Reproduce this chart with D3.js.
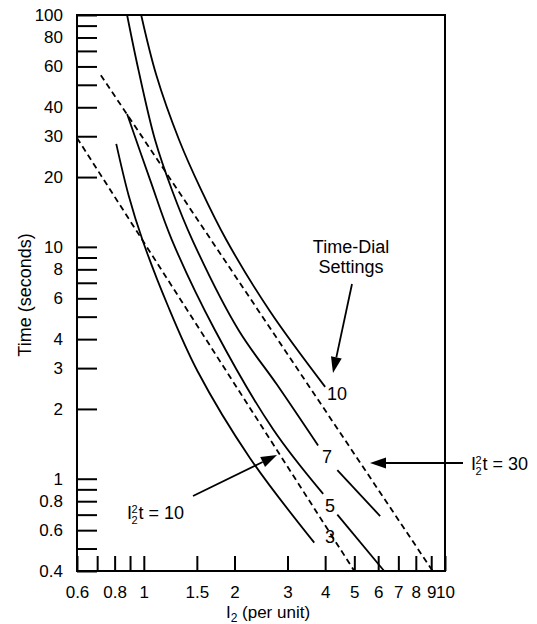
<!DOCTYPE html>
<html>
<head>
<meta charset="utf-8">
<script src="https://cdn.jsdelivr.net/npm/d3@7"></script>
<style>
body{margin:0;background:#fff;}
text{font-family:"Liberation Sans",Arial,sans-serif;fill:#000;}
</style>
</head>
<body>
<svg id="chart" width="537" height="624"></svg>
<script>
// values: current I2 (per unit) and time (seconds)
var dial3I = [0.81, 0.89, 0.99, 1.2, 1.51, 2.25, 3.68];
var dial3T = [27.8, 16.7, 10.7, 5.6, 2.9, 1.23, 0.53];

var dial5I = [0.88, 1.05, 1.24, 1.72, 2.69, 3.94];
var dial5T = [37.4, 19.4, 10.7, 4.39, 1.63, 0.86];
var dial5bI = [4.39, 6.28];
var dial5bT = [0.70, 0.40];

var dial7I = [0.88, 0.96, 1.09, 1.24, 1.45, 2.06, 2.77, 3.79];
var dial7T = [100, 57.9, 28.9, 17.6, 10.7, 4.39, 2.54, 1.39];
var dial7bI = [4.39, 6.09];
var dial7bT = [1.09, 0.69];

var dial10I = [0.98, 1.1, 1.31, 1.55, 1.88, 2.63, 4.0];
var dial10T = [100, 55.1, 28.9, 17.6, 10.7, 5.25, 2.49];

var i2t10I = [0.6, 5.0];
var i2t10T = [29.5, 0.4];
var i2t30I = [0.72, 9.1];
var i2t30T = [55, 0.4];

var xTicks = [0.6, 0.7, 0.8, 0.9, 1, 1.5, 2, 3, 4, 5, 6, 7, 8, 9, 10];
var xLabels = [0.6, 0.8, 1, 1.5, 2, 3, 4, 5, 6, 7, 8, 9, 10];
var yTicks = [0.4, 0.5, 0.6, 0.7, 0.8, 0.9, 1, 2, 3, 4, 5, 6, 7, 8, 9,
              10, 20, 30, 40, 50, 60, 70, 80, 90, 100];
var yLabels = [0.4, 0.6, 0.8, 1, 2, 3, 4, 6, 8, 10, 20, 30, 40, 60, 80, 100];

var svg = d3.select("#chart");

var x = d3.scaleLog().domain([0.6, 10]).range([77, 445]);
var y = d3.scaleLog().domain([0.4, 100]).range([571, 15]);

// axes, ticks pointing inward
var gy = svg.append("g")
  .attr("transform", "translate(77,0)")
  .call(d3.axisLeft(y).tickValues(yTicks).tickSize(-20).tickPadding(14)
    .tickFormat(function(d){ return yLabels.indexOf(d) >= 0 ? d : ""; }));

var gx = svg.append("g")
  .attr("transform", "translate(0,571)")
  .call(d3.axisBottom(x).tickValues(xTicks).tickSize(-15).tickPadding(15)
    .tickFormat(function(d){ return xLabels.indexOf(d) >= 0 ? d : ""; }));

[gx, gy].forEach(function(g){
  g.select(".domain").remove();
  g.attr("font-family", "Liberation Sans, Arial, sans-serif").attr("font-size", 17);
  g.selectAll(".tick line").attr("stroke", "#000").attr("stroke-width", 2);
  g.selectAll(".tick text").attr("fill", "#000");
});

svg.append("rect")
  .attr("x", x(0.6)).attr("y", y(100))
  .attr("width", x(10) - x(0.6)).attr("height", y(0.4) - y(100))
  .attr("fill", "none").attr("stroke", "#000").attr("stroke-width", 2);

// curves
var line = d3.line()
  .x(function(d){ return x(d[0]); })
  .y(function(d){ return y(d[1]); })
  .curve(d3.curveCatmullRom.alpha(0.5));

var solid = [
  d3.zip(dial3I, dial3T), d3.zip(dial5I, dial5T), d3.zip(dial5bI, dial5bT),
  d3.zip(dial7I, dial7T), d3.zip(dial7bI, dial7bT), d3.zip(dial10I, dial10T)
];
var dashed = [d3.zip(i2t10I, i2t10T), d3.zip(i2t30I, i2t30T)];

svg.selectAll("path.solid")
  .data(solid)
  .enter()
  .append("path")
  .attr("class", "solid")
  .attr("d", line)
  .attr("fill", "none")
  .attr("stroke", "#000")
  .attr("stroke-width", 1.8);

svg.selectAll("path.dashed")
  .data(dashed)
  .enter()
  .append("path")
  .attr("class", "dashed")
  .attr("d", line)
  .attr("fill", "none")
  .attr("stroke", "#000")
  .attr("stroke-width", 1.8)
  .attr("stroke-dasharray", "6,4");

// dial labels
var dialLabels = [["10", 337, 400], ["7", 327, 463], ["5", 330, 512], ["3", 330, 543]];
svg.selectAll("text.dial")
  .data(dialLabels)
  .enter()
  .append("text")
  .attr("class", "dial")
  .attr("x", function(d){ return d[1]; })
  .attr("y", function(d){ return d[2]; })
  .attr("text-anchor", "middle")
  .attr("font-size", 18)
  .text(function(d){ return d[0]; });

svg.append("text").attr("x", 351).attr("y", 253).attr("text-anchor", "middle")
  .attr("font-size", 18).text("Time-Dial");
svg.append("text").attr("x", 351).attr("y", 273).attr("text-anchor", "middle")
  .attr("font-size", 18).text("Settings");

// arrows
var arrow = function(x1, y1, x2, y2)
{
  var a = Math.atan2(y2 - y1, x2 - x1);
  var len = 16, w = 5.5;
  var bx = x2 - len * Math.cos(a), by = y2 - len * Math.sin(a);
  svg.append("line")
    .attr("x1", x1).attr("y1", y1).attr("x2", bx).attr("y2", by)
    .attr("stroke", "#000").attr("stroke-width", 1.8);
  svg.append("path")
    .attr("d", "M" + x2 + "," + y2 +
      "L" + (bx + w * Math.sin(a)) + "," + (by - w * Math.cos(a)) +
      "L" + (bx - w * Math.sin(a)) + "," + (by + w * Math.cos(a)) + "Z")
    .attr("fill", "#000");
};
arrow(352, 284, 333, 373);
arrow(463, 463, 370, 463);
arrow(193, 496, 277, 455);

// I2^2 t labels
var i2tLabel = function(x0, yb, value)
{
  var g = svg.append("g").attr("font-size", 18);
  g.append("text").attr("x", x0).attr("y", yb).text("I");
  g.append("text").attr("x", x0 + 4.5).attr("y", yb - 6).attr("font-size", 11).text("2");
  g.append("text").attr("x", x0 + 4.5).attr("y", yb + 5).attr("font-size", 11).text("2");
  g.append("text").attr("x", x0 + 11.5).attr("y", yb).text("t = " + value);
};
i2tLabel(127, 519, 10);
i2tLabel(471, 470, 30);

// axis titles
svg.append("text")
  .attr("transform", "translate(31,295) rotate(-90)")
  .attr("text-anchor", "middle")
  .attr("font-size", 18)
  .text("Time (seconds)");

var xt = svg.append("text")
  .attr("x", 268).attr("y", 618)
  .attr("text-anchor", "middle")
  .attr("font-size", 17);
xt.append("tspan").text("I");
xt.append("tspan").attr("font-size", 12).attr("dy", 4).text("2");
xt.append("tspan").attr("dy", -4).text(" (per unit)");
</script>
</body>
</html>
